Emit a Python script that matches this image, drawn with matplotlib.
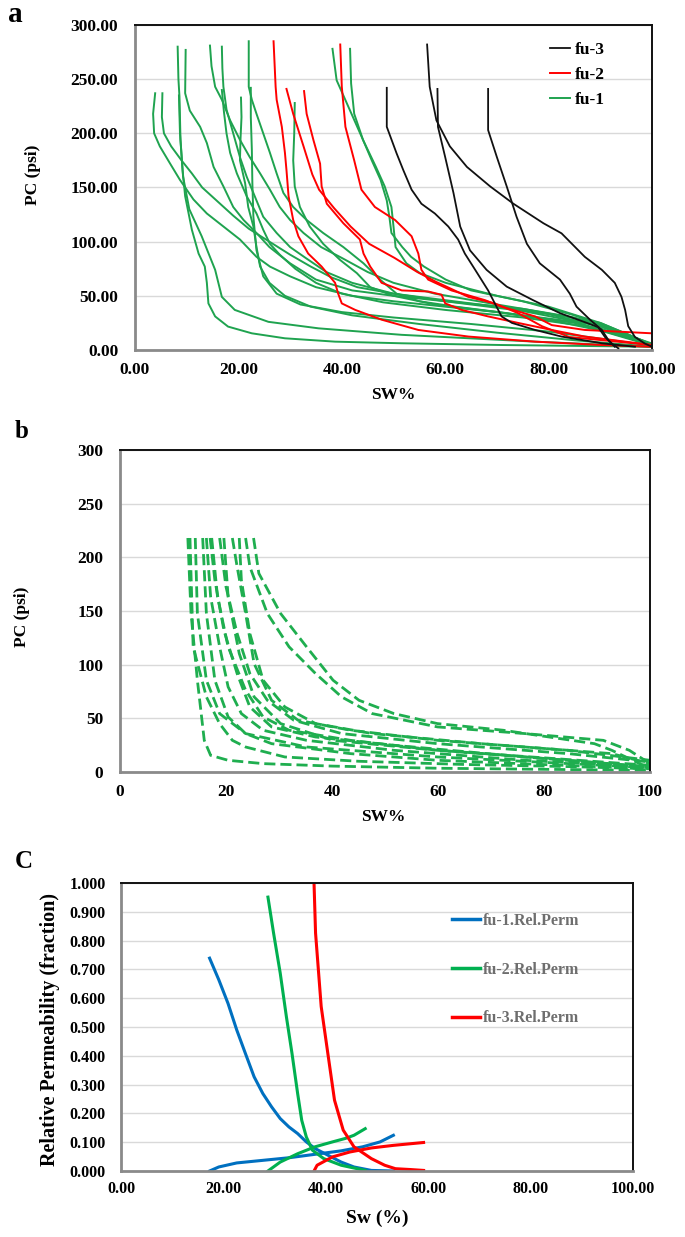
import matplotlib
matplotlib.use("Agg")
import matplotlib.pyplot as plt
from matplotlib.ticker import FormatStrFormatter, MultipleLocator
from matplotlib.lines import Line2D

plt.rcParams['font.family'] = ['Liberation Serif', 'DejaVu Serif']
plt.rcParams['font.weight'] = 'bold'

# ---------------- Panel a data (SW %, PC psi) ----------------
# fu-1 (green)
fu1_01_sw = [3.9, 3.5, 3.7, 4.8, 6.8, 8.7, 11.3, 13.9, 17.1, 20.3, 23.5, 26.1, 30, 35, 42, 50, 60, 70, 80, 90, 100]
fu1_01_pc = [237, 218, 200, 188, 172, 157, 139, 126, 114, 102, 86, 77, 68, 58, 50, 45, 40, 35, 28, 18, 4]
fu1_02_sw = [5.3, 5.2, 5.6, 7, 9, 11, 13, 16, 19, 22, 26, 30, 34, 38, 43, 50, 60, 70, 80, 90, 100]
fu1_02_pc = [237, 215, 200, 188, 175, 163, 150, 137, 124, 112, 100, 88, 77, 67, 58, 52, 46, 40, 33, 22, 5]
fu1_03_sw = [8.25, 8.4, 8.6, 8.8, 9.3, 10.5, 12.9, 15.5, 16.8, 19.3, 25.8, 35.5, 51.6, 77.4, 100]
fu1_03_pc = [280, 250, 234, 194, 160, 130, 105, 74, 49, 37, 26, 20, 14, 7.7, 3]
fu1_04_sw = [8.5, 8.7, 9.2, 9.7, 11, 12.3, 13.5, 13.9, 14.2, 15.5, 18, 22.6, 29, 38.7, 51.6, 70.9, 100]
fu1_04_pc = [235, 200, 166, 142, 111, 89, 77, 62, 43, 31, 21.6, 15.4, 10.8, 7.7, 6.2, 4.6, 3]
fu1_05_sw = [9.8, 9.7, 10.6, 12.6, 13.9, 15.2, 17.1, 19, 21, 23.5, 26, 30, 35, 42, 50, 60, 75, 90, 100]
fu1_05_pc = [277, 237, 221, 206, 191, 169, 151, 132, 120, 108, 95, 80, 65, 55, 50, 45, 38, 25, 5]
fu1_06_sw = [14.5, 14.8, 15.5, 16.8, 18.4, 20.3, 22.2, 24.2, 26.1, 28, 30, 32.6, 36, 40, 45, 50, 58, 70, 85, 100]
fu1_06_pc = [281, 262, 243, 231, 212, 194, 178, 163, 148, 132, 120, 108, 95, 85, 72, 62, 52, 42, 30, 6]
fu1_07_sw = [16.8, 16.9, 17.1, 17.7, 19, 20.3, 21.6, 23.5, 24.8, 27.4, 30, 33, 37, 42, 50, 60, 75, 90, 100]
fu1_07_pc = [280, 260, 243, 222, 200, 178, 160, 138, 123, 108, 95, 85, 72, 62, 52, 45, 36, 22, 5]
fu1_08_sw = [16.8, 17.2, 17.7, 18.4, 19.7, 21.6, 23.5, 24.8, 26.1, 28, 31, 35, 40, 48, 60, 75, 90, 100]
fu1_08_pc = [240, 220, 200, 182, 163, 142, 126, 111, 98, 88, 75, 62, 52, 44, 37, 30, 20, 4]
fu1_09_sw = [20.5, 20.6, 20.4, 20.3, 21.3, 21.9, 22.9, 23.5, 24.2, 26, 29, 34, 42, 55, 70, 85, 100]
fu1_09_pc = [233, 215, 194, 175, 154, 132, 114, 95, 77, 62, 50, 40, 32, 24, 16, 9, 3]
fu1_10_sw = [22, 22, 22.6, 23.5, 24.8, 26.1, 27.4, 28.7, 30.6, 33.2, 36.4, 40.3, 44.2, 47.4, 50.6, 55, 62, 72, 85, 100]
fu1_10_pc = [285, 243, 231, 218, 200, 182, 163, 145, 132, 120, 108, 95, 80, 65, 52, 45, 40, 34, 25, 5]
fu1_11_sw = [22.4, 22.4, 22.6, 22.7, 22.9, 23.5, 24.8, 27.4, 32, 40, 50, 65, 80, 100]
fu1_11_pc = [242, 215, 185, 154, 123, 92, 68, 52, 42, 35, 30, 24, 17, 4]
fu1_12_sw = [30.9, 30.8, 30.6, 30.9, 31.9, 33.8, 36.4, 39.7, 42.9, 45.5, 50, 58, 70, 85, 100]
fu1_12_pc = [228, 200, 175, 151, 132, 114, 98, 83, 71, 58, 50, 42, 35, 26, 5]
fu1_13_sw = [38.2, 39, 41.6, 44.1, 46.6, 48.3, 49.6, 50, 50.4, 52.5, 55.1, 60.1, 70, 80, 90, 100]
fu1_13_pc = [278, 249, 221, 194, 169, 151, 132, 114, 95, 80, 71, 62, 50, 40, 25, 5]
fu1_14_sw = [41.6, 41.8, 42.4, 44.1, 45.8, 47.5, 48.7, 49.2, 49.6, 51.7, 53.4, 55.9, 60.1, 65, 75, 85, 95, 100]
fu1_14_pc = [278, 246, 218, 194, 175, 157, 138, 123, 108, 95, 86, 77, 65, 55, 45, 32, 15, 4]

# fu-2 (red)
fu2_01_sw = [26.8, 27.2, 27.4, 28.4, 29, 29.3, 29.7, 30.6, 31.6, 33.5, 36.1, 38.7, 39.3, 40, 42.6, 47.7, 54.8, 64.5, 77.4, 90.3, 100]
fu2_01_pc = [285, 243, 231, 206, 182, 166, 142, 120, 105, 89, 77, 62, 52, 43, 37, 28, 18.5, 12.4, 7.7, 4.6, 3]
fu2_02_sw = [29.3, 30.6, 32.6, 34.3, 35.6, 38.5, 41.7, 45.3, 50.2, 54.6, 58.2, 64.5, 69.6, 74.1, 78.7, 84, 100]
fu2_02_pc = [241, 218, 188, 162, 148, 131, 114, 98, 85, 72, 63, 49, 43, 34, 22, 12, 4.6]
fu2_03_sw = [32.7, 33.2, 34.5, 35.8, 36.1, 37.1, 40.3, 43.5, 44.2, 45.5, 47.7, 51.6, 56.7, 59.3, 60, 63.2, 68.3, 74.1, 80.6, 87, 100]
fu2_03_pc = [239, 218, 194, 172, 151, 135, 117, 102, 89, 77, 62, 55, 54, 51, 43, 37, 31, 25, 18.5, 12.4, 4.6]
fu2_04_sw = [39.7, 40, 40.7, 42.4, 43.8, 46.4, 50.3, 53.5, 54.8, 55.4, 56.7, 61.2, 67.7, 70.9, 77.4, 80.6, 87, 100]
fu2_04_pc = [282, 243, 206, 175, 148, 132, 120, 105, 89, 74, 65, 55, 46, 40, 31, 23, 18.5, 15.4]

# fu-3 (black)
fu3_01_sw = [56.5, 57, 58.3, 60.9, 64.2, 68.7, 73.2, 79, 82.5, 87, 90.3, 92.8, 94.1, 94.8, 95.4, 96.7, 98.6, 100]
fu3_01_pc = [282, 243, 212, 188, 169, 151, 135, 117, 107.7, 86, 74, 62, 49, 37, 22, 12, 6, 3]
fu3_02_sw = [58.5, 58.6, 60, 61.6, 62.9, 64.8, 68, 71.9, 77, 82.2, 87.4, 89.6, 90.9, 92.2, 93.5]
fu3_02_pc = [241, 206, 178, 145, 114, 92, 74, 58.5, 46, 34, 25, 21, 12, 6, 1.5]
fu3_03_sw = [68.3, 68.3, 70, 71.9, 73.8, 75.8, 78.3, 82.2, 84.1, 85.4, 88, 90.3, 91.6, 92.8]
fu3_03_pc = [241, 203, 178, 151, 123, 98, 80, 65, 52, 40, 28, 18.5, 9, 3]
fu3_04_sw = [48.7, 48.7, 50.6, 51.9, 53.5, 55.4, 58, 60.6, 62.5, 63.8, 65.8, 68.3, 69.6, 70.9, 72.9, 77.4, 82.5, 90.3, 96.7]
fu3_04_pc = [242, 206, 181.5, 166, 148, 135, 126, 114, 102, 89, 74, 55, 43, 31, 25, 18.5, 12.4, 6.2, 3]

# ---------------- Panel b data (dashed fu-1 curves) ----------------
pb_01_sw = [12.8, 13.4, 14.6, 15.9, 17.1, 20.4, 27, 40, 60, 80, 100]
pb_01_pc = [218, 147.7, 85.5, 29.5, 15.5, 10.9, 7.8, 5.5, 3.5, 2.5, 1.5]
pb_02_sw = [13.2, 13.8, 16.3, 18.8, 21.2, 23.7, 31.1, 45, 65, 85, 100]
pb_02_pc = [218, 116.6, 70, 45, 29.5, 23.3, 14, 10, 7, 5, 3]
pb_03_sw = [14.2, 14.6, 16.3, 18.8, 23.7, 35.2, 59.9, 100]
pb_03_pc = [218, 147.7, 85.5, 54.4, 35.8, 23.3, 14, 4]
pb_04_sw = [15.6, 16.3, 17.9, 20.4, 23.7, 28.6, 43.5, 59.9, 100]
pb_04_pc = [218, 147.7, 85.5, 51.3, 35.8, 26.4, 17.1, 10.9, 3]
pb_05_sw = [16.3, 17.1, 18.8, 20.4, 22.9, 27, 35.2, 51.7, 76.4, 100]
pb_05_pc = [218, 163.2, 116.6, 79.3, 54.4, 38.9, 29.5, 20.2, 10.9, 4.7]
pb_06_sw = [17, 17.9, 19.6, 22.1, 24.5, 28.6, 36.9, 51.7, 76.4, 100]
pb_06_pc = [218, 178.8, 132.1, 91.7, 60.6, 42, 32.6, 24.9, 14, 4.7]
pb_07_sw = [17.3, 18.4, 20.4, 23.7, 27, 31.9, 43.5, 59.9, 84.6, 100]
pb_07_pc = [218, 163.2, 116.6, 76.2, 51.3, 38.9, 29.5, 20.2, 10.9, 4.7]
pb_08_sw = [18.8, 20, 22.1, 24.5, 27.8, 32.8, 41.8, 59.9, 84.6, 100]
pb_08_pc = [218, 172.5, 129, 91.7, 66.8, 48.2, 35.8, 26.4, 17.1, 9.3]
pb_09_sw = [19.6, 20.4, 22.5, 25.3, 30.3, 40.2, 59.9, 100]
pb_09_pc = [218, 163.2, 110.4, 70, 45.1, 29.5, 20.2, 6.2]
pb_10_sw = [21.2, 22.1, 23.7, 25.3, 28.6, 33.6, 43.5, 59.9, 84.6, 100]
pb_10_pc = [218, 191.2, 147.7, 101, 66.8, 48.2, 38.9, 29.5, 20.2, 10.9]
pb_11_sw = [22.5, 22.9, 24.5, 27, 31.1, 36.9, 47.6, 68.1, 92.8, 100]
pb_11_pc = [218, 178.8, 129, 85.5, 60.6, 45.1, 35.8, 26.4, 17.1, 7.8]
pb_12_sw = [23.7, 24.5, 27.8, 31.9, 36.9, 41.8, 47.6, 59.9, 76.4, 91.2, 96.1, 100]
pb_12_pc = [218, 191.2, 147.7, 116.6, 91.7, 70, 54.4, 42, 35.8, 29.5, 20.2, 7.8]
pb_13_sw = [25.2, 26.2, 30.3, 35.2, 40.2, 45.1, 51.7, 59.9, 72.3, 89.5, 92.8, 96.1, 100]
pb_13_pc = [218, 185, 147.7, 116.6, 85.5, 66.8, 54.4, 45.1, 38.9, 26.4, 20.2, 12.4, 3.1]

# ---------------- Panel c data (Sw %, kr fraction) ----------------
fu1_kr_dec_sw = [17.3, 19.1, 20.9, 22.6, 24.3, 26, 27.7, 29.4, 31.1, 32.8, 34.5, 36.2, 37.9, 40.4, 43, 45.5, 48.9, 53.2]
fu1_kr_dec = [0.739, 0.664, 0.582, 0.49, 0.408, 0.327, 0.269, 0.223, 0.182, 0.153, 0.13, 0.101, 0.078, 0.055, 0.031, 0.014, 0.002, 0.0]
fu1_kr_inc_sw = [17.3, 19.1, 22.6, 27.7, 32.8, 37.9, 43, 47.2, 50.6, 53.2]
fu1_kr_inc = [0.0, 0.014, 0.028, 0.037, 0.046, 0.058, 0.07, 0.084, 0.101, 0.124]
fu2_kr_dec_sw = [28.7, 29.8, 31.1, 32.3, 33.4, 34.5, 35.3, 36.2, 37.4, 39.6, 43, 47.7]
fu2_kr_dec = [0.951, 0.826, 0.687, 0.536, 0.408, 0.269, 0.176, 0.118, 0.072, 0.043, 0.02, 0.002]
fu2_kr_inc_sw = [28.7, 31.1, 34.5, 37.9, 41.3, 43.8, 45.5, 47.7]
fu2_kr_inc = [0.0, 0.031, 0.06, 0.084, 0.101, 0.113, 0.124, 0.147]
fu3_kr_dec_sw = [37.7, 38, 39.1, 40.4, 41.7, 43.4, 45.5, 48.9, 51.5, 53.6, 56.6, 59.1]
fu3_kr_dec = [1.0, 0.826, 0.571, 0.408, 0.246, 0.142, 0.084, 0.043, 0.02, 0.008, 0.005, 0.002]
fu3_kr_inc_sw = [37.7, 38.3, 41.3, 44.7, 48.9, 53.2, 59.1]
fu3_kr_inc = [0.0, 0.02, 0.049, 0.066, 0.08, 0.089, 0.099]

# group curves
fu1_curves = [(fu1_01_sw, fu1_01_pc), (fu1_02_sw, fu1_02_pc), (fu1_03_sw, fu1_03_pc), (fu1_04_sw, fu1_04_pc),
              (fu1_05_sw, fu1_05_pc), (fu1_06_sw, fu1_06_pc), (fu1_07_sw, fu1_07_pc), (fu1_08_sw, fu1_08_pc),
              (fu1_09_sw, fu1_09_pc), (fu1_10_sw, fu1_10_pc), (fu1_11_sw, fu1_11_pc), (fu1_12_sw, fu1_12_pc),
              (fu1_13_sw, fu1_13_pc), (fu1_14_sw, fu1_14_pc)]
fu2_curves = [(fu2_01_sw, fu2_01_pc), (fu2_02_sw, fu2_02_pc), (fu2_03_sw, fu2_03_pc), (fu2_04_sw, fu2_04_pc)]
fu3_curves = [(fu3_01_sw, fu3_01_pc), (fu3_02_sw, fu3_02_pc), (fu3_03_sw, fu3_03_pc), (fu3_04_sw, fu3_04_pc)]
pb_curves = [(pb_01_sw, pb_01_pc), (pb_02_sw, pb_02_pc), (pb_03_sw, pb_03_pc), (pb_04_sw, pb_04_pc),
             (pb_05_sw, pb_05_pc), (pb_06_sw, pb_06_pc), (pb_07_sw, pb_07_pc), (pb_08_sw, pb_08_pc),
             (pb_09_sw, pb_09_pc), (pb_10_sw, pb_10_pc), (pb_11_sw, pb_11_pc), (pb_12_sw, pb_12_pc),
             (pb_13_sw, pb_13_pc)]

W, H = 685, 1237
fig = plt.figure(figsize=(W / 100, H / 100), dpi=100)


def fx(x):
    return x / W


def fy(y):
    return 1 - y / H


def make_axes(x0, y0, x1, y1):
    ax = fig.add_axes([fx(x0), fy(y1), (x1 - x0) / W, (y1 - y0) / H])
    ax.grid(axis='y', color='#d9d9d9', lw=1.0)
    ax.set_axisbelow(True)
    for s in ('top', 'right'):
        ax.spines[s].set_color('#111111')
        ax.spines[s].set_linewidth(1.4)
    for s in ('left', 'bottom'):
        ax.spines[s].set_color('#8a8a8a')
        ax.spines[s].set_linewidth(2.0)
    ax.tick_params(length=0)
    return ax


GREEN_A = '#1fa34f'
RED = '#ff0000'

# ---------- Panel a ----------
axa = make_axes(135, 25, 652, 350)
for sw, pc in fu1_curves:
    axa.plot(sw, pc, color=GREEN_A, lw=1.4, solid_joinstyle='round')
for sw, pc in fu2_curves:
    axa.plot(sw, pc, color=RED, lw=1.4, solid_joinstyle='round')
for sw, pc in fu3_curves:
    axa.plot(sw, pc, color='#111111', lw=1.3, solid_joinstyle='round')
axa.set_xlim(0, 100)
axa.set_ylim(0, 300)
axa.xaxis.set_major_locator(MultipleLocator(20))
axa.yaxis.set_major_locator(MultipleLocator(50))
axa.xaxis.set_major_formatter(FormatStrFormatter('%.2f'))
axa.yaxis.set_major_formatter(FormatStrFormatter('%.2f'))
axa.tick_params(axis='x', labelsize=12.5, pad=9)
axa.tick_params(axis='y', labelsize=12.5, pad=12)
handles_a = [Line2D([], [], color='#111111', lw=1.3), Line2D([], [], color=RED, lw=1.4),
             Line2D([], [], color=GREEN_A, lw=1.4)]
axa.legend(handles_a, ['fu-3', 'fu-2', 'fu-1'], loc='upper left', bbox_to_anchor=(0.78, 0.985),
           frameon=False, fontsize=12.5, handlelength=1.15, handletextpad=0.25, labelspacing=0.5,
           borderpad=0.2)
fig.text(fx(15), fy(15), 'a', fontsize=21, fontweight='bold', ha='center', va='center')
fig.text(fx(33), fy(175), 'PC (psi)', fontsize=12.5, fontweight='bold', rotation=90, ha='center', va='center')
fig.text(fx(393), fy(395), 'SW%', fontsize=12.5, fontweight='bold', ha='center', va='center')

# ---------- Panel b ----------
axb = make_axes(120, 450, 650, 772)
for sw, pc in pb_curves:
    axb.plot(sw, pc, color='#1fae4f', lw=2.0, dashes=(4.0, 1.8))
axb.set_xlim(0, 100)
axb.set_ylim(0, 300)
axb.xaxis.set_major_locator(MultipleLocator(20))
axb.yaxis.set_major_locator(MultipleLocator(50))
axb.tick_params(axis='x', labelsize=12.5, pad=9)
axb.tick_params(axis='y', labelsize=12.5, pad=12)
fig.text(fx(22), fy(432), 'b', fontsize=18, fontweight='bold', ha='center', va='center')
fig.text(fx(22), fy(617), 'PC (psi)', fontsize=12.5, fontweight='bold', rotation=90, ha='center', va='center')
fig.text(fx(383), fy(817), 'SW%', fontsize=12.5, fontweight='bold', ha='center', va='center')

# ---------- Panel c ----------
axc = make_axes(121, 883, 633, 1171)
axc.plot(fu1_kr_dec_sw, fu1_kr_dec, color='#0070c0', lw=2.2)
axc.plot(fu1_kr_inc_sw, fu1_kr_inc, color='#0070c0', lw=2.2)
axc.plot(fu2_kr_dec_sw, fu2_kr_dec, color='#00b050', lw=2.2)
axc.plot(fu2_kr_inc_sw, fu2_kr_inc, color='#00b050', lw=2.2)
axc.plot(fu3_kr_dec_sw, fu3_kr_dec, color=RED, lw=2.2)
axc.plot(fu3_kr_inc_sw, fu3_kr_inc, color=RED, lw=2.2)
axc.set_xlim(0, 100)
axc.set_ylim(0, 1.0)
axc.xaxis.set_major_locator(MultipleLocator(20))
axc.yaxis.set_major_locator(MultipleLocator(0.1))
axc.xaxis.set_major_formatter(FormatStrFormatter('%.2f'))
axc.yaxis.set_major_formatter(FormatStrFormatter('%.3f'))
axc.tick_params(axis='x', labelsize=11.5, pad=7)
axc.tick_params(axis='y', labelsize=11.5, pad=11)
handles_c = [Line2D([], [], color='#0070c0', lw=2.5), Line2D([], [], color='#00b050', lw=2.5),
             Line2D([], [], color=RED, lw=2.5)]
legc = axc.legend(handles_c, ['fu-1.Rel.Perm', 'fu-2.Rel.Perm', 'fu-3.Rel.Perm'], loc='upper left',
                  bbox_to_anchor=(0.625, 0.935), frameon=False, fontsize=11.5, handlelength=1.75,
                  handletextpad=0.15, labelspacing=2.05, borderpad=0.2)
for t in legc.get_texts():
    t.set_color('#6e6e6e')
fig.text(fx(24), fy(862), 'C', fontsize=18, fontweight='bold', ha='center', va='center')
fig.text(fx(50), fy(1030), 'Relative Permeability (fraction)', fontsize=14.5, fontweight='bold',
         rotation=90, ha='center', va='center')
fig.text(fx(377), fy(1218), 'Sw (%)', fontsize=14, fontweight='bold', ha='center', va='center')

fig.savefig('out.png', dpi=100)
